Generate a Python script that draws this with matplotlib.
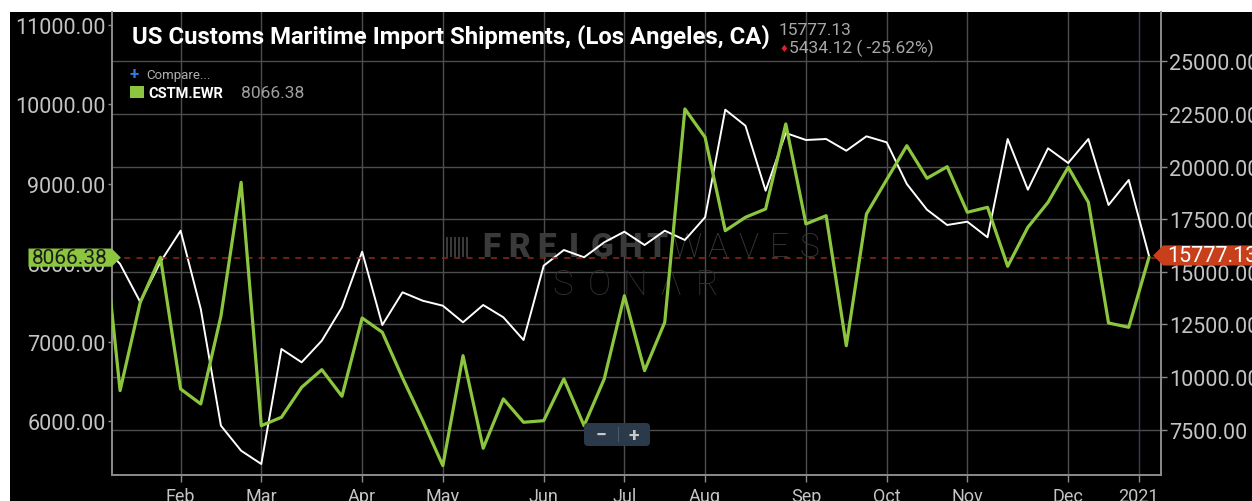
import matplotlib
matplotlib.use('Agg')
import matplotlib.pyplot as plt
import matplotlib.transforms as mtransforms
from matplotlib.patches import Rectangle, FancyBboxPatch
from matplotlib.path import Path

plt.rcParams['font.family'] = ['Roboto', 'DejaVu Sans']

W, H = 1252, 502

# weekly points, evenly spaced (ordinal axis); index -1 sits just left of the window
week_idx = list(range(-1, 52))
ewr = [8845, 6389, 7503, 8071, 6410, 6221, 7330, 9016, 5947, 6053, 6431, 6653,
       6318, 7305, 7125, 6550, 6010, 5443, 6830, 5662, 6284, 5990, 6010, 6536,
       5947, 6536, 7586, 6641, 7251, 9941, 9584, 8406, 8575, 8680, 9752, 8491,
       8595, 6956, 8617, 9049, 9478, 9067, 9213, 8638, 8701, 7957, 8449, 8764,
       9206, 8764, 7242, 7188, 8066.38]
la = [16417, 15372, 13567, 15467, 16953, 13234, 7691, 6503, 5872, 11334, 10702,
      11728, 13315, 15956, 12474, 14027, 13628, 13391, 12602, 13424, 12840,
      11762, 15291, 16037, 15690, 16402, 16906, 16274, 16953, 16512, 17590,
      22701, 21941, 18853, 21594, 21262, 21309, 20753, 21437, 21152, 19172,
      17951, 17224, 17381, 16640, 21309, 18901, 20867, 20169, 21309, 18174,
      19362, 15777.13]

month_pos = [3, 7, 12, 16, 21, 25, 29, 34, 38, 42, 47, 50.5]
month_lbl = ['Feb', 'Mar', 'Apr', 'May', 'Jun', 'Jul', 'Aug', 'Sep', 'Oct',
             'Nov', 'Dec', '2021']
left_ticks = [6000, 7000, 8000, 9000, 10000, 11000]
right_ticks = [7500, 10000, 12500, 15000, 17500, 20000, 22500, 25000]

GREEN = '#8cc63f'
RED = '#c7401b'
GRID = '#4d4d4d'
LABEL = '#c4c4c4'


def fx(px):
    return px / W


def fy(py):
    return 1 - py / H


def tag(point):
    # price tag shaped box, pointing right or left
    def style(x0, y0, width, height, mutation_size):
        padx = mutation_size * 0.18
        pady = mutation_size * -0.02
        x0, y0 = x0 - padx, y0 - pady
        x1, y1 = x0 + width + 2 * padx, y0 + height + 2 * pady
        ym = (y0 + y1) / 2
        tip = (y1 - y0) / 2
        if point == 'right':
            verts = [(x0, y0), (x1, y0), (x1 + tip, ym), (x1, y1), (x0, y1), (x0, y0)]
        else:
            verts = [(x0, y0), (x1, y0), (x1, y1), (x0, y1), (x0 - tip, ym), (x0, y0)]
        return Path(verts, closed=True)
    return style


fig = plt.figure(figsize=(W / 100, H / 100), dpi=100)
fig.patch.set_facecolor('white')
fig.add_artist(Rectangle((fx(10), 0), fx(W - 10), 1 - 13 / H, transform=fig.transFigure,
                         facecolor='black', edgecolor='none', zorder=-5))

ax2 = fig.add_axes([fx(112), 26 / H, fx(1049), 463 / H])
ax2.patch.set_visible(False)
ax = ax2.twinx()
# swap roles so the green series (left scale) is on top
ax.yaxis.tick_left()
ax2.yaxis.tick_right()
ax.set_zorder(ax2.get_zorder() + 1)
ax.patch.set_visible(False)
ax.xaxis.set_visible(True)

# white line, right scale
ax2.plot(week_idx, la, color='white', lw=1.4, zorder=3)
ax2.set_ylim(5349, 27342)
ax2.set_yticks(right_ticks)
ax2.set_yticklabels([f'{v:.2f}' for v in right_ticks])
ax2.set_xlim(-0.4, 51.6)
ax2.set_xticks(month_pos)
ax2.tick_params(axis='x', length=0, labelbottom=False)
ax2.grid(True, color=GRID, lw=1.0)
ax2.set_axisbelow(True)
ax2.xaxis.get_gridlines()[-1].set_color('#36414d')
ax2.tick_params(axis='y', colors='#8c8c8c', labelcolor=LABEL, labelsize=15.5,
                length=4, width=1, pad=2)

# green line, left scale
ax.plot(week_idx, ewr, color=GREEN, lw=2.3, zorder=3)
ax.set_ylim(5325, 11164)
ax.set_yticks(left_ticks)
ax.set_yticklabels([f'{v:.2f}' for v in left_ticks])
ax.set_xlim(-0.4, 51.6)
ax.set_xticks(month_pos)
ax.set_xticklabels(month_lbl)
ax.tick_params(axis='y', colors='#8c8c8c', labelcolor=LABEL, labelsize=15.5,
               length=3, width=1, pad=1.5)
ax.tick_params(axis='x', colors='#8c8c8c', labelcolor=LABEL, labelsize=13,
               length=5, width=1, pad=3.5, bottom=True, labelbottom=True,
               top=False, labeltop=False)

for a in (ax, ax2):
    a.spines['top'].set_visible(False)
    for s in ('left', 'bottom', 'right'):
        a.spines[s].set_color('#8c8c8c')
        a.spines[s].set_linewidth(1.2)

# last value guide and tags
ax.axhline(ewr[-1], color='#8b2b1b', lw=1.1, ls=(0, (4, 4)), zorder=2)
blend_l = mtransforms.blended_transform_factory(ax.transAxes, ax.transData)
blend_r = mtransforms.blended_transform_factory(ax2.transAxes, ax2.transData)
ax.text(-4 / 1049, ewr[-1], f'{ewr[-1]:.2f}', transform=blend_l, ha='right', va='center',
        fontsize=15, color='#1c1c1c', clip_on=False, zorder=10,
        bbox=dict(boxstyle=tag('right'), facecolor=GREEN, edgecolor='none'))
ax.text(1 + 6 / 1049, la[-1], f'{la[-1]:.2f}', transform=blend_r, ha='left', va='center',
        fontsize=15.5, color='white', clip_on=False, zorder=10,
        bbox=dict(boxstyle=tag('left'), facecolor=RED, edgecolor='none'))

# watermark
for k, ch in enumerate('FREIGHT'):
    ax2.text(fx(478 + 27.7 * k + 13), fy(248), ch, transform=fig.transFigure, ha='center',
             va='center', fontsize=24, fontweight='black', color='#3a3a3a', zorder=1)
for k, ch in enumerate('WAVES'):
    ax2.text(fx(672 + 30.6 * k + 15), fy(248), ch, transform=fig.transFigure, ha='center',
             va='center', fontsize=24, fontweight='light', color='#3a3a3a', zorder=1)
for k, ch in enumerate('SON\u039bR'):
    ax2.text(fx(546 + 36 * k + 17), fy(285), ch, transform=fig.transFigure, ha='center',
             va='center', fontsize=25, fontweight='light', color='#303030', zorder=1)
for k in range(6):
    ax2.add_artist(Rectangle((fx(446 + 4 * k), fy(258)), fx(2), 20 / H,
                             transform=fig.transFigure, facecolor='#3a3a3a',
                             edgecolor='none', zorder=1))

# header texts
title = fig.text(fx(132), fy(37), 'US Customs Maritime Import Shipments, (Los Angeles, CA)',
                 fontweight='bold', fontsize=18, color='white', ha='left', va='center')
fig.canvas.draw()
title.set_fontsize(18 * 638 / title.get_window_extent().width)

fig.text(fx(779), fy(31), '15777.13', fontsize=12.5, color='#a8a8a8', ha='left', va='center')
fig.text(fx(779), fy(48.5), '\u2666', family=['DejaVu Sans'], fontsize=7, color='#e3202a',
         ha='left', va='center')
fig.text(fx(789), fy(48.5), '5434.12 ( -25.62%)', fontsize=12.5, color='#a8a8a8',
         ha='left', va='center')
fig.text(fx(130), fy(74), '+', fontsize=12, fontweight='bold', color='#2f7de1',
         ha='left', va='center')
fig.text(fx(146), fy(75), 'Compare...', fontsize=9.5, color='#b0b0b0', ha='left', va='center')
fig.add_artist(Rectangle((fx(130), fy(99)), fx(14), 12 / H, transform=fig.transFigure,
                         facecolor=GREEN, edgecolor='none'))
fig.text(fx(148), fy(94), 'CSTM.EWR', fontsize=10.5, fontweight='bold', color='white',
         ha='left', va='center')
fig.text(fx(241), fy(94), '8066.38', fontsize=12.5, color='#a0a0a0', ha='left', va='center')

# zoom buttons
fig.add_artist(FancyBboxPatch((584, H - 447), 66, 23, boxstyle='round,pad=0,rounding_size=4',
                              transform=mtransforms.IdentityTransform(),
                              facecolor='#2a3a4a', edgecolor='none', zorder=5))
fig.add_artist(Rectangle((fx(618), fy(443)), fx(1), 15 / H, transform=fig.transFigure,
                         facecolor='#4b5b6b', edgecolor='none', zorder=6))
fig.text(fx(601), fy(436), '\u2212', fontsize=14, fontweight='bold', color='#c8c8c8',
         ha='center', va='center', zorder=7)
fig.text(fx(634), fy(436), '+', fontsize=14, fontweight='bold', color='#c8c8c8',
         ha='center', va='center', zorder=7)

fig.savefig('out.png', dpi=100)
